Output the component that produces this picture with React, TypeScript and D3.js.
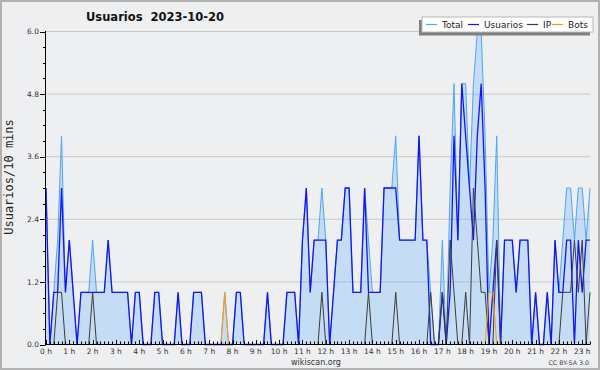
import React, { useEffect } from 'react';
import * as d3 from 'd3';

// 10-minute buckets, 00:00 .. 23:20
const usuarios = [
  3, 0, 1, 1, 3, 1, 2, 1, 0, 1, 1, 1,
  1, 1, 1, 1, 2, 1, 1, 1, 1, 1, 0, 1,
  1, 0, 0, 0, 1, 1, 0, 0, 0, 0, 1, 0,
  0, 0, 1, 1, 1, 0, 0, 0, 0, 0, 0, 0,
  0, 1, 1, 0, 0, 0, 0, 0, 0, 1, 0, 0,
  0, 0, 1, 1, 1, 0, 2, 3, 1, 2, 2, 2,
  2, 0, 1, 2, 2, 3, 3, 1, 1, 1, 3, 1,
  1, 1, 1, 3, 3, 3, 3, 2, 2, 2, 2, 2,
  4, 2, 2, 0, 0, 0, 1, 0, 1, 4, 2, 5,
  4, 3, 2, 4, 5, 3, 0, 1, 2, 0, 2, 2,
  2, 1, 2, 2, 2, 0, 1, 0, 0, 1, 0, 2,
  1, 1, 2, 2, 0, 2, 1, 2, 2,
];

const ip = [
  0, 0, 0, 1, 1, 0, 0, 0, 0, 0, 0, 0,
  1, 0, 0, 0, 0, 0, 0, 0, 0, 0, 0, 0,
  0, 0, 0, 0, 0, 0, 0, 0, 0, 0, 0, 0,
  0, 0, 0, 0, 0, 0, 0, 0, 0, 0, 0, 0,
  0, 0, 0, 0, 0, 0, 0, 0, 0, 0, 0, 0,
  0, 0, 0, 0, 0, 0, 0, 0, 0, 0, 0, 1,
  0, 0, 0, 0, 0, 0, 0, 0, 0, 0, 0, 1,
  0, 0, 0, 0, 0, 0, 1, 0, 0, 0, 0, 0,
  0, 0, 0, 1, 0, 0, 1, 0, 2, 1, 0, 0,
  1, 0, 3, 2, 1, 1, 0, 0, 2, 0, 0, 0,
  0, 0, 0, 0, 0, 0, 0, 0, 0, 0, 0, 0,
  0, 1, 1, 1, 2, 1, 2, 0, 1,
];

const bots = [
  0, 0, 0, 0, 0, 0, 0, 0, 0, 0, 0, 0,
  0, 0, 0, 0, 0, 0, 0, 0, 0, 0, 0, 0,
  0, 0, 0, 0, 0, 0, 0, 0, 0, 0, 0, 0,
  0, 0, 0, 0, 0, 0, 0, 0, 0, 0, 1, 0,
  0, 0, 0, 0, 0, 0, 0, 0, 0, 0, 0, 0,
  0, 0, 0, 0, 0, 0, 0, 0, 0, 0, 0, 0,
  0, 0, 0, 0, 0, 0, 0, 0, 0, 0, 0, 0,
  0, 0, 0, 0, 0, 0, 0, 0, 0, 0, 0, 0,
  0, 0, 0, 0, 0, 0, 0, 0, 0, 0, 0, 0,
  0, 0, 0, 0, 0, 0, 1, 1, 0, 0, 0, 0,
  0, 0, 0, 0, 0, 0, 0, 0, 0, 0, 0, 0,
  0, 0, 0, 0, 0, 0, 0, 0, 0,
];

const total = [
  3, 0, 1, 2, 4, 1, 2, 1, 0, 1, 1, 1,
  2, 1, 1, 1, 2, 1, 1, 1, 1, 1, 0, 1,
  1, 0, 0, 0, 1, 1, 0, 0, 0, 0, 1, 0,
  0, 0, 1, 1, 1, 0, 0, 0, 0, 0, 1, 0,
  0, 1, 1, 0, 0, 0, 0, 0, 0, 1, 0, 0,
  0, 0, 1, 1, 1, 0, 2, 3, 1, 2, 2, 3,
  2, 0, 1, 2, 2, 3, 3, 1, 1, 1, 3, 2,
  1, 1, 1, 3, 3, 3, 4, 2, 2, 2, 2, 2,
  4, 2, 2, 1, 0, 0, 2, 0, 3, 5, 2, 5,
  5, 3, 5, 6, 6, 4, 1, 2, 4, 0, 2, 2,
  2, 1, 2, 2, 2, 0, 1, 0, 0, 1, 0, 2,
  1, 2, 3, 3, 2, 3, 3, 2, 3,
];

const hourLabels = [
  '0 h', '1 h', '2 h', '3 h', '4 h', '5 h', '6 h', '7 h', '8 h', '9 h', '10 h', '11 h',
  '12 h', '13 h', '14 h', '15 h', '16 h', '17 h', '18 h', '19 h', '20 h', '21 h', '22 h', '23 h',
];
const yTicks = [0, 1.2, 2.4, 3.6, 4.8, 6.0];
const seriesNames = ['Total', 'Usuarios', 'IP', 'Bots'];
const seriesColors = ['#4ea6f5', '#1414f5', '#3c3c3c', '#ff9a10'];

const W = 600;
const H = 370;
const FONT = "'DejaVu Sans', sans-serif";

export default function App() {
  useEffect(() => {
    document.body.style.margin = '0';
  }, []);

  const x = d3.scaleLinear().domain([0, usuarios.length - 1]).range([46, 590]);
  const y = d3.scaleLinear().domain([0, 6]).range([344.5, 31.5]);

  const area = d3
    .area<number>()
    .x((_, i) => x(i))
    .y0(y(0))
    .y1((d) => y(d));
  const line = d3
    .line<number>()
    .x((_, i) => x(i))
    .y((d) => y(d));

  const minorY = d3.range(0, 6.0001, 0.3);
  const series = [total, usuarios, ip, bots];
  const widths = [1, 1.3, 1, 1];
  const legendX = [426, 468, 527, 552];

  return (
    <svg
      width={W}
      height={H}
      viewBox={`0 0 ${W} ${H}`}
      style={{ display: 'block', position: 'absolute', left: 0, top: 0 }}
    >
      <rect x={0} y={0} width={W} height={H} fill="#eeeff1" />
      <rect x={1} y={1} width={W - 2} height={H - 2} fill="none" stroke="#b2b2b2" strokeWidth={2} />

      {/* title */}
      <text x={86} y={21} fontFamily={FONT} fontWeight="bold" fontSize={11.5} fill="#111">
        Usuarios{'\u00a0\u00a0'}2023-10-20
      </text>

      {/* grid */}
      {yTicks.slice(1).map((t) => (
        <line key={'g' + t} x1={46} x2={590} y1={y(t)} y2={y(t)} stroke="#c8c8c8" strokeWidth={1} />
      ))}

      {/* series */}
      <path d={area(total) || ''} fill="#4da6ff" fillOpacity={0.26} stroke="none" />
      {series.map((s, k) => (
        <path
          key={'s' + k}
          d={line(s) || ''}
          fill="none"
          stroke={seriesColors[k]}
          strokeWidth={widths[k]}
          strokeLinejoin="miter"
        />
      ))}

      {/* y axis */}
      <line x1={45.5} x2={45.5} y1={31} y2={345} stroke="#000" strokeWidth={1} />
      {minorY.map((t, i) => (
        <line
          key={'my' + i}
          x1={i % 4 === 0 ? 40 : 43}
          x2={45.5}
          y1={Math.round(y(t)) + 0.5}
          y2={Math.round(y(t)) + 0.5}
          stroke="#000"
          strokeWidth={1}
        />
      ))}
      {yTicks.map((t) => (
        <text
          key={'yl' + t}
          x={39}
          y={y(t)}
          dy="0.35em"
          textAnchor="end"
          fontFamily={FONT}
          fontSize={7.5}
          fill="#333"
        >
          {t.toFixed(1)}
        </text>
      ))}
      <text
        transform={`translate(13,177) rotate(-90)`}
        textAnchor="middle"
        fontFamily="'DejaVu Sans Mono', monospace"
        fontSize={12}
        fill="#222"
      >
        Usuarios/10 mins
      </text>

      {/* x axis */}
      <line x1={45.5} x2={590} y1={344.5} y2={344.5} stroke="#000" strokeWidth={1} />
      {usuarios.map((_, i) => (
        <line
          key={'xt' + i}
          x1={Math.round(x(i)) + 0.5}
          x2={Math.round(x(i)) + 0.5}
          y1={344.5}
          y2={i % 6 === 0 ? 340 : 341.5}
          stroke="#000"
          strokeWidth={1}
        />
      ))}
      {hourLabels.map((h, k) => (
        <text
          key={'xl' + k}
          x={x(k * 6)}
          y={354}
          textAnchor="middle"
          fontFamily={FONT}
          fontSize={7.5}
          fill="#333"
        >
          {h}
        </text>
      ))}

      {/* legend */}
      <rect x={419} y={20} width={171} height={15.5} fill="#808080" />
      <rect x={422} y={17} width={171} height={15} fill="#fff" stroke="#b8b8b8" strokeWidth={1} />
      {seriesNames.map((n, k) => (
        <g key={'lg' + k}>
          <line
            x1={legendX[k]}
            x2={legendX[k] + 11}
            y1={24.5}
            y2={24.5}
            stroke={seriesColors[k]}
            strokeWidth={1.2}
          />
          <text x={legendX[k] + 16} y={28} fontFamily={FONT} fontSize={9} fill="#222">
            {n}
          </text>
        </g>
      ))}

      {/* footer */}
      <text x={316} y={365} textAnchor="middle" fontFamily={FONT} fontSize={8} fill="#333">
        wikiscan.org
      </text>
      <text x={589} y={365} textAnchor="end" fontFamily={FONT} fontSize={6.3} fill="#444">
        CC BY-SA 3.0
      </text>
    </svg>
  );
}
